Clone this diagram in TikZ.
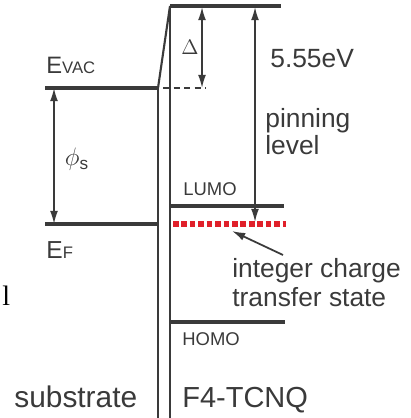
\documentclass[tikz,border=0pt]{standalone}
\usepackage{fontspec}
\setmainfont{Liberation Sans}
\newfontfamily\serifl{Liberation Serif}
\usepackage{amsmath}
\usepackage{xcolor}
\usetikzlibrary{arrows.meta,positioning,calc}
\definecolor{linegray}{HTML}{3A3A3A}
\definecolor{ictred}{HTML}{E0202A}

\begin{document}
\begin{tikzpicture}[x=0.02cm,y=-0.02cm,
  level/.style={linegray,line width=1.9pt},
  wall/.style={linegray,line width=1.2pt},
  tip/.style={-{Latex[length=7.5pt,width=4.5pt]}},
  span/.style={{Latex[length=7.5pt,width=4.5pt]}-{Latex[length=7.5pt,width=4.5pt]},linegray,line width=0.9pt},
  big/.style={text=linegray,inner sep=0pt,anchor=base west,font=\fontsize{15}{17}\selectfont},
  small/.style={text=linegray,inner sep=0pt,anchor=base west,font=\fontsize{10.5}{12}\selectfont}]
\useasboundingbox (0,0) rectangle (411,418);
% substrate side
\coordinate (vacS) at (45,88);
\coordinate (vacI) at (158,88);
\coordinate (fermiS) at (45,224);
\coordinate (fermiI) at (158,224);
\draw[level] (vacS) -- (vacI);
\draw[level] (fermiS) -- (fermiI);
\draw[span] ($(vacS)+(9,0)$) coordinate (phiTop) -- ($(fermiS)+(9,0)$) coordinate (phiBot);
% interface walls
\coordinate (wallTop) at (170,6);
\draw[wall] (vacI) -- (158,418);
\draw[wall] (vacI) -- (wallTop);
\draw[wall] (wallTop) -- (170,418);
% organic levels
\coordinate (topR) at (281,6);
\coordinate (lumoL) at (170,206);
\coordinate (lumoR) at (284,206);
\coordinate (ictL) at (173,224);
\coordinate (ictR) at (286,224);
\coordinate (homoL) at (171,322);
\coordinate (homoR) at (285,322);
\draw[level] (wallTop) -- (topR);
\draw[level] (lumoL) -- (lumoR);
\draw[level] (homoL) -- (homoR);
\draw[ictred,line width=3.2pt,dash pattern=on 3.2pt off 1.6pt] (ictL) -- (ictR);
\draw[linegray,line width=1pt,dash pattern=on 3.5pt off 2.5pt] (163,88) coordinate (vacD) -- (206,88) coordinate (vacE);
\draw[span] (202,7) coordinate (deltaTop) -- (202,88) coordinate (deltaBot);
\draw[span] (255,7) coordinate (pinTop) -- (255,222) coordinate (pinBot);
% pointer to the charge transfer state
\coordinate (ptrFrom) at (283,255);
\coordinate (ptrTo) at (232,231);
\draw[tip,linegray,line width=1pt] (ptrFrom) -- (ptrTo);
% labels
\node[text=linegray,inner sep=0pt,anchor=base west] (evac) at (46,74)
  {\fontsize{13.5}{14}\selectfont E\fontsize{9.5}{10}\selectfont VAC};
\node[text=linegray,inner sep=0pt,anchor=base west] (ef) at (46,258)
  {\fontsize{14}{14}\selectfont E\fontsize{9.5}{10}\selectfont F};
\node[text=linegray,inner sep=0pt] (phi) at (77,159) {\fontsize{14}{14}\selectfont$\phi_{\mathrm{s}}$};
\node[small,font=\fontsize{11.5}{12}\selectfont] (delta) at (181,55) {$\Delta$};
\node[big] (ev) at (270,68) {5.55eV};
\node[big] (pin1) at (265,128) {pinning};
\node[big] (pin2) at (265,155) {level};
\node[small] (lumo) at (183,195) {LUMO};
\node[small] (homo) at (182,345) {HOMO};
\node[big] (ict1) at (232,277) {integer charge};
\node[big] (ict2) at (232,306) {transfer state};
\node[big,font=\fontsize{17}{18}\selectfont] (sub) at (14,407) {substrate};
\node[big,font=\fontsize{16.5}{17}\selectfont] (mol) at (182,407) {F4-TCNQ};
\node[inner sep=0pt,anchor=base west,font=\serifl\fontsize{16}{17}\selectfont] (stray) at (2,305) {l};
\end{tikzpicture}
\end{document}
